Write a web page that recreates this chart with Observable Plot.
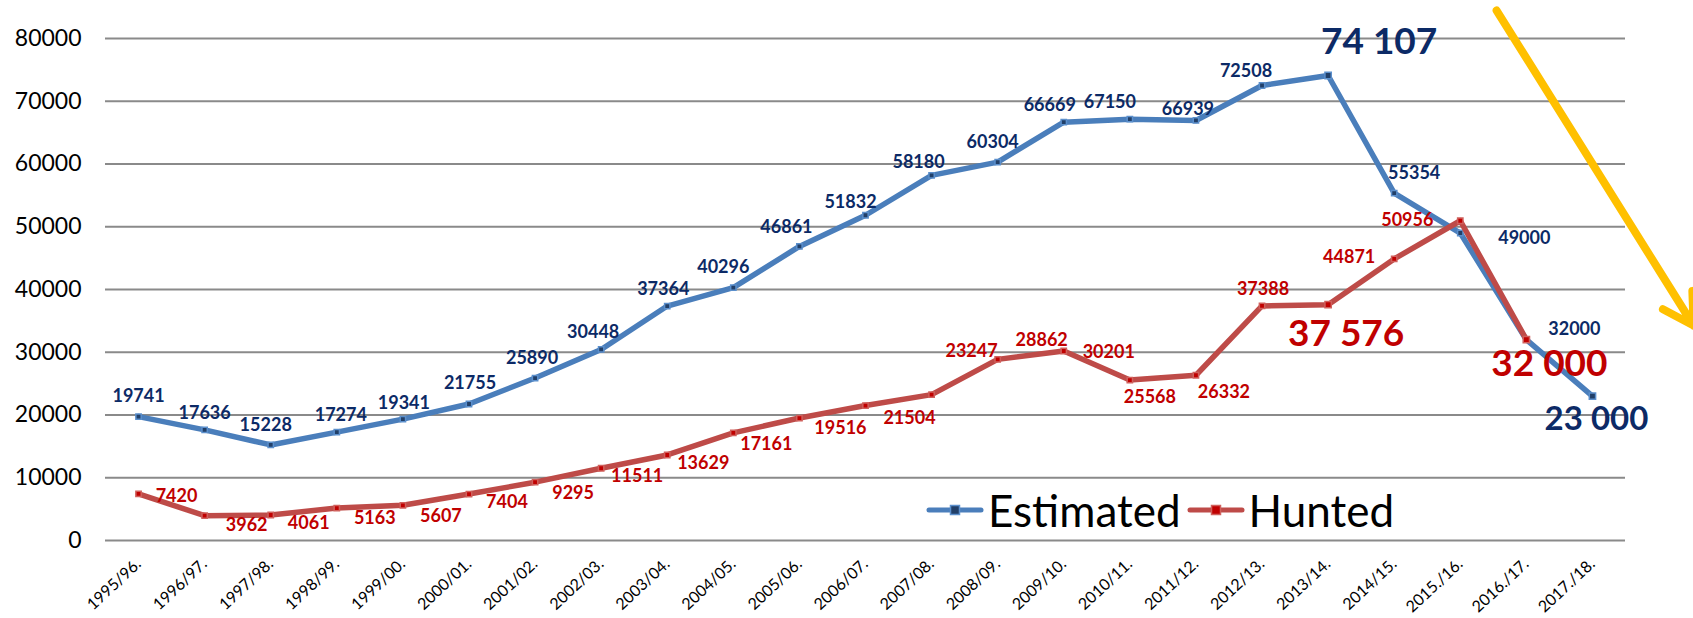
<!DOCTYPE html>
<html><head><meta charset="utf-8">
<script src="https://cdn.jsdelivr.net/npm/d3@7"></script>
<script src="https://cdn.jsdelivr.net/npm/@observablehq/plot@0.6"></script>
<style>
html,body{margin:0;padding:0;background:#fff;}
#wrap{position:relative;width:1693px;height:618px;overflow:hidden;font-family:Lato,sans-serif;}
#legend{position:absolute;left:926px;top:488px;display:flex;align-items:center;font-family:Lato,sans-serif;font-size:44px;color:#000;line-height:1;}
#legend .item{display:flex;align-items:center;margin-right:6px;}
#legend svg{margin-right:4px;}
</style></head><body><div id="wrap"></div>
<script>
// ---- data ----
const seasons = ["1995/96.","1996/97.","1997/98.","1998/99.","1999/00.","2000/01.","2001/02.","2002/03.","2003/04.","2004/05.","2005/06.","2006/07.","2007/08.","2008/09.","2009/10.","2010/11.","2011/12.","2012/13.","2013/14.","2014/15.","2015./16.","2016./17.","2017./18."];
const estimated = [19741,17636,15228,17274,19341,21755,25890,30448,37364,40296,46861,51832,58180,60304,66669,67150,66939,72508,74107,55354,49000,32000,23000];
const hunted = [7420,3962,4061,5163,5607,7404,9295,11511,13629,17161,19516,21504,23247,28862,30201,25568,26332,37388,37576,44871,50956,32000];
const yTicks = [0,10000,20000,30000,40000,50000,60000,70000,80000];
const seriesNames = ["Estimated","Hunted"];
const estHighlight = [18,22];   // indices shown with large labels
const huntHighlight = [18,21];
// label placement (pixel offsets of each data label centre from its point)
const estDx = [0,0,-5,4,1,1,-3,-8,-4,-10,-13,-15,-13,-5,-14,-20,-8,-16,51,20,64,48,4];
const estDy = [-20,-17,-20,-17,-16,-21,-20,-17,-17,-20,-19,-13,-13,-20,-17,-17,-11,-14,-33,-20,5,-10,23];
const huntDx = [38,42,38,38,38,38,38,36,36,33,41,44,40,44,45,20,28,1,18,-45,-53,23];
const huntDy = [2,10,8,10,11,8,11,8,8,11,10,13,-43,-19,1,17,17,-17,29,-2,-1,24];
// trend arrow (in data units: x = season index, y = count)
const arrowFrom = {x: 20.55, y: 84460};
const arrowTo = {x: 23.53, y: 34260};

const blueLine = "#4A7EBB", blueEdge = "#5B8FCC", blueMarker = "#213F68", blueText = "#0C2A66";
const redLine = "#BE4B48", redEdge = "#D0605C", redMarker = "#C00000", redText = "#C00000";
const spaced = v => d3.format(",")(v).replace(/,/g, " ");

const est = estimated.map((v,i)=>({i, v, big: estHighlight.includes(i), label: estHighlight.includes(i) ? spaced(v) : String(v), dx: estDx[i], dy: estDy[i]}));
const hunt = hunted.map((v,i)=>({i, v, big: huntHighlight.includes(i), label: huntHighlight.includes(i) ? spaced(v) : String(v), dx: huntDx[i], dy: huntDy[i]}));

function labelMarks(data, color, bigSizes) {
  return data.map(d => Plot.text([d], {
    x: "i", y: "v", text: "label", dx: d.dx, dy: d.dy,
    fill: color, fontWeight: "bold",
    fontSize: d.big ? bigSizes[d.i] : 18
  }));
}

const chart = Plot.plot({
  width: 1693, height: 618,
  marginLeft: 105, marginRight: 68, marginTop: 38, marginBottom: 78,
  style: {fontFamily: "Lato, sans-serif", background: "#fff", overflow: "visible"},
  x: {domain: [-0.5, 22.5], axis: null},
  y: {domain: [0, 80000], axis: null},
  marks: [
    Plot.ruleY(yTicks, {stroke: "#8a8a8a", strokeWidth: 2}),
    Plot.axisY({ticks: yTicks, tickFormat: d => String(d), tickSize: 0, tickPadding: 24, fontSize: 23, fill: "#000"}),
    Plot.axisX({ticks: d3.range(seasons.length), tickFormat: i => seasons[i], tickSize: 0, tickPadding: 21, tickRotate: -43, fontSize: 16, fill: "#000"}),
    Plot.line(est, {x: "i", y: "v", stroke: blueLine, strokeWidth: 5.5}),
    Plot.dot(est, {x: "i", y: "v", symbol: "square", r: d => d.big ? 7.3 : 5.2, fill: blueMarker, stroke: blueEdge, strokeWidth: 1.5}),
    Plot.line(hunt, {x: "i", y: "v", stroke: redLine, strokeWidth: 5.5}),
    Plot.dot(hunt, {x: "i", y: "v", symbol: "square", r: d => d.big ? 7.3 : 5.2, fill: redMarker, stroke: redEdge, strokeWidth: 1.5}),
    ...labelMarks(est, blueText, {18: 37, 22: 33}),
    ...labelMarks(hunt, redText, {18: 37, 21: 37}),
    Plot.arrow([{x1: arrowFrom.x, y1: arrowFrom.y, x2: arrowTo.x, y2: arrowTo.y}], {x1: "x1", y1: "y1", x2: "x2", y2: "y2", stroke: "#FFC000", strokeWidth: 8, headLength: 6.5, headAngle: 60})
  ]
});
const wrap = document.getElementById("wrap");
wrap.appendChild(chart);

// legend
const legend = document.createElement("div");
legend.id = "legend";
[[seriesNames[0], blueLine, blueMarker, blueEdge],[seriesNames[1], redLine, redMarker, redEdge]].forEach(([name, lc, mc, ec]) => {
  const item = document.createElement("div");
  item.className = "item";
  const sw = d3.create("svg").attr("width", 58).attr("height", 20);
  sw.append("line").attr("x1", 3).attr("x2", 55).attr("y1", 10).attr("y2", 10).attr("stroke", lc).attr("stroke-width", 5).attr("stroke-linecap", "round");
  sw.append("rect").attr("x", 24.5).attr("y", 5.5).attr("width", 9).attr("height", 9).attr("fill", mc).attr("stroke", ec).attr("stroke-width", 1.5);
  item.appendChild(sw.node());
  const t = document.createElement("span");
  t.textContent = name;
  item.appendChild(t);
  legend.appendChild(item);
});
wrap.appendChild(legend);
</script>
</body></html>
